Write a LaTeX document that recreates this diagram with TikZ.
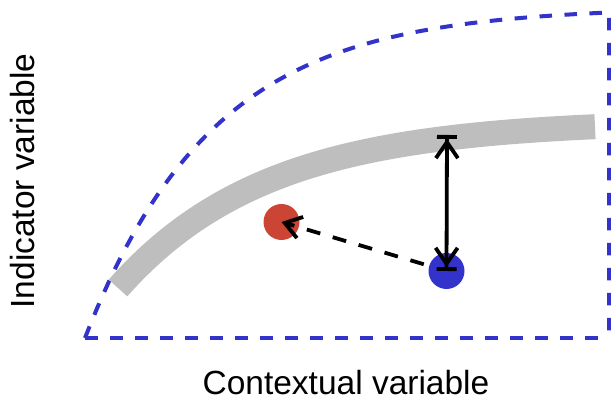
\documentclass[tikz,border=0pt]{standalone}
\usepackage{fontspec}
\setmainfont{Liberation Sans}
\usetikzlibrary{arrows.meta}
\definecolor{dblue}{RGB}{51,51,204}
\definecolor{dred}{RGB}{204,68,51}
\definecolor{bandgray}{RGB}{190,190,190}
\begin{document}
\begin{tikzpicture}[x=1pt,y=1pt,
  region/.style={draw=dblue, line width=4pt, dash pattern=on 12.5pt off 12.5pt},
  band/.style={draw=bandgray, line width=25pt},
  dot/.style={circle, inner sep=0pt, minimum size=36pt},
  lbl/.style={font=\fontsize{33.5}{40}\selectfont},
  conn/.style={draw=black, line width=3.8pt},
  vtip/.tip={Straight Barb[length=16pt,width=22pt]},
  btip/.tip={Bar[width=20pt]},
  ]
\useasboundingbox (0,0) rectangle (611,403);
% dashed region
\draw[region] plot[domain=85:609, samples=90] (\x, {396-331*exp(-(\x-85)/128)}) -- (609,65);
\draw[region] (85,65) -- (609,65);
% grey curve
\draw[band] plot[domain=118:595, samples=90] (\x, {283-168*exp(-(\x-118)/148)});
% points
\node[dot, fill=dred] (red) at (281.5,181) {};
\node[dot, fill=dblue] (blue) at (446.5,132) {};
\coordinate (fit) at (447,268);
% connectors
\draw[conn, {btip[]vtip[]}-{vtip[]btip[]}] (fit) -- (blue.center);
\draw[conn, dash pattern=on 14pt off 13pt, dash phase=21.5pt, -{vtip[]}] (blue) -- (red.center);
% labels
\node[lbl, anchor=base] (xlab) at (346,8) {Contextual variable};
\node[lbl, anchor=base, rotate=90] (ylab) at (35,222) {Indicator variable};
\end{tikzpicture}
\end{document}
